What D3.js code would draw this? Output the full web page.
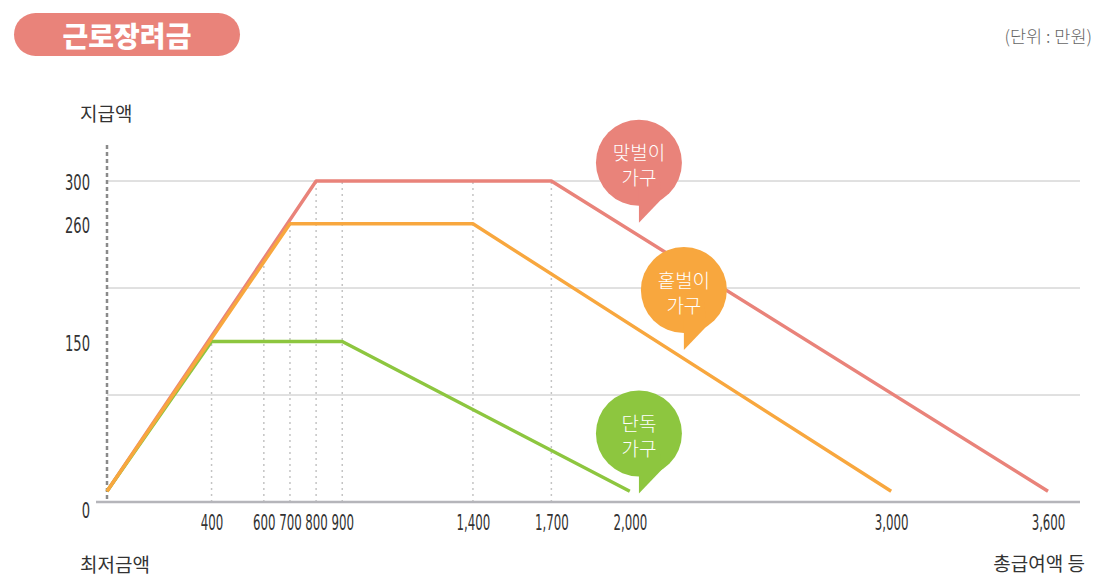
<!DOCTYPE html>
<html><head><meta charset="utf-8">
<script src="https://cdn.jsdelivr.net/npm/d3@7"></script>
<style>body{margin:0;background:#fff}</style>
</head><body><svg id="c" width="1110" height="584"></svg>
<script>
// ---- data ----
const xTicks = [400, 600, 700, 800, 900, 1400, 1700, 2000, 3000, 3600];
const yTicks = [0, 150, 260, 300];
const gridValues = [100, 200, 300];
const guideX = [400, 600, 700, 800, 900, 1400, 1700];
const seriesNames = [["맞벌이", "가구"], ["홑벌이", "가구"], ["단독", "가구"]];
const seriesColors = ["#E9837A", "#F8A73E", "#8DC63F"];
const dualX = [0, 800, 1700, 3600];
const dualY = [10, 300, 300, 10];
const soleX = [0, 700, 1400, 3000];
const soleY = [10, 260, 260, 10];
const singleX = [0, 400, 900, 2000];
const singleY = [10, 150, 150, 10];
const bubbleTipX = [2035, 2207, 2035];
const bubbleTipY = [261, 142, 8];

const series = [
  {x: dualX, y: dualY, c: seriesColors[0]},
  {x: soleX, y: soleY, c: seriesColors[1]},
  {x: singleX, y: singleY, c: seriesColors[2]}
];

const svg = d3.select("#c");
const x = d3.scaleLinear().domain([0, 3600]).range([107, 1048]);
const y = d3.scaleLinear().domain([0, 300]).range([502, 181]);
const KR = "'Noto Sans CJK KR','Noto Sans',sans-serif";
const NUM = "'Liberation Sans Narrow','DejaVu Sans Condensed','Roboto',sans-serif";

function numFactor(target) {
  const t = svg.append("text").style("font-family", NUM).style("font-size", "21px").text("300");
  const w = t.node().getComputedTextLength();
  t.remove();
  return Math.min(1, target / w);
}

// title pill
svg.append("rect").attr("x", 14).attr("y", 13).attr("width", 226).attr("height", 43)
  .attr("rx", 21.5).attr("fill", "#E9837A");
svg.append("text").attr("x", 127).attr("y", 35).attr("text-anchor", "middle")
  .attr("dominant-baseline", "central").attr("fill", "#fff")
  .style("font-family", KR).style("font-weight", 900).style("font-size", "28px")
  .text("근로장려금");
svg.append("text").attr("x", 1092).attr("y", 35).attr("text-anchor", "end")
  .attr("dominant-baseline", "central").attr("fill", "#666")
  .style("font-family", KR).style("font-size", "17.5px").style("font-weight", 300).text("(단위 : 만원)");

// gridlines
svg.append("g").selectAll("line").data(gridValues).join("line")
  .attr("x1", x(0)).attr("x2", 1080).attr("y1", d => y(d)).attr("y2", d => y(d))
  .attr("stroke", "#c2c2c2").attr("stroke-width", 1);

// guide dotted verticals
const interp = s => d3.scaleLinear().domain(s.x).range(s.y).clamp(true);
const interps = series.map(interp);
svg.append("g").selectAll("line").data(guideX).join("line")
  .attr("x1", d => x(d)).attr("x2", d => x(d))
  .attr("y1", y(0)).attr("y2", d => y(d3.max(interps, f => f(d))))
  .attr("stroke", "#c4c4c4").attr("stroke-width", 1.5).attr("stroke-dasharray", "2,4");

// baseline
svg.append("line").attr("x1", 96).attr("x2", 1080).attr("y1", y(0)).attr("y2", y(0))
  .attr("stroke", "#b5b5ba").attr("stroke-width", 2.5);
// y axis dashed
svg.append("line").attr("x1", x(0)).attr("x2", x(0)).attr("y1", 145).attr("y2", y(0))
  .attr("stroke", "#8a8a8a").attr("stroke-width", 2.5).attr("stroke-dasharray", "4,3");

// lines (order: red, green, orange on top)
const line = d3.line().x(d => x(d[0])).y(d => y(d[1]));
[series[0], series[2], series[1]].forEach(s => {
  svg.append("path").attr("d", line(s.x.map((v, i) => [v, s.y[i]])))
    .attr("fill", "none").attr("stroke", s.c).attr("stroke-width", 3.4)
    .attr("stroke-linejoin", "round");
});

const kx = numFactor(22.5), ky = numFactor(25);

// axes
const xAxis = svg.append("g").attr("transform", `translate(0,${y(0)})`)
  .call(d3.axisBottom(x).tickValues(xTicks).tickSize(0).tickPadding(13).tickFormat(d3.format(",")));
xAxis.select(".domain").remove();
xAxis.selectAll("text").style("font-family", NUM).style("font-size", "21px").attr("fill", "#333")
  .attr("transform", `scale(${kx},1)`);

const yAxis = svg.append("g").attr("transform", `translate(${x(0)},0)`)
  .call(d3.axisLeft(y).tickValues(yTicks).tickSize(0).tickPadding(17));
yAxis.select(".domain").remove();
yAxis.selectAll("text").style("font-family", NUM).style("font-size", "21px").attr("fill", "#333")
  .attr("dy", d => d === 0 ? "0.72em" : "0.42em")
  .attr("x", -17 / ky).attr("transform", `scale(${ky},1)`);

// axis titles
svg.append("text").attr("x", 80).attr("y", 112).attr("dominant-baseline", "central")
  .attr("fill", "#333").style("font-family", KR).style("font-size", "19px").text("지급액");
svg.append("text").attr("x", 80).attr("y", 563).attr("dominant-baseline", "central")
  .attr("fill", "#333").style("font-family", KR).style("font-size", "19px").text("최저금액");
svg.append("text").attr("x", 1085).attr("y", 562).attr("text-anchor", "end").attr("dominant-baseline", "central")
  .attr("fill", "#333").style("font-family", KR).style("font-size", "19px").text("총급여액 등");

// bubbles
seriesNames.forEach((nm, i) => {
  const tx = x(bubbleTipX[i]), ty = y(bubbleTipY[i]);
  const cx = tx, cy = ty - 60, r = 43;
  const g = svg.append("g");
  g.append("circle").attr("cx", cx).attr("cy", cy).attr("r", r).attr("fill", seriesColors[i]);
  g.append("path").attr("d", `M${cx},${cy + 20}L${cx},${ty}L${cx + 23},${cy + 36}L${cx + 20},${cy + 10}Z`)
    .attr("fill", seriesColors[i]);
  g.append("text").attr("x", cx).attr("y", cy - 11).attr("text-anchor", "middle")
    .attr("dominant-baseline", "central").attr("fill", "#fff")
    .style("font-family", KR).style("font-size", "19px").style("font-weight", 300).text(nm[0]);
  g.append("text").attr("x", cx).attr("y", cy + 14).attr("text-anchor", "middle")
    .attr("dominant-baseline", "central").attr("fill", "#fff")
    .style("font-family", KR).style("font-size", "19px").style("font-weight", 300).text(nm[1]);
});
</script></body></html>
